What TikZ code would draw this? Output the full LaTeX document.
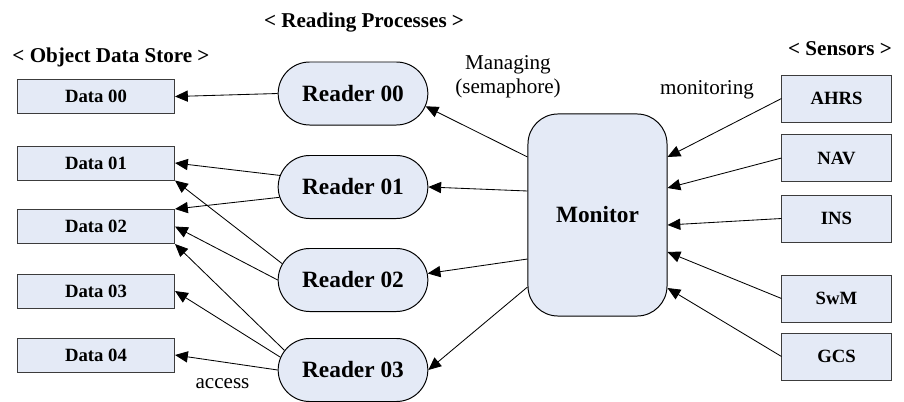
\documentclass[tikz,border=0pt]{standalone}
\usepackage{fontspec}
\setmainfont{Liberation Serif}
\usetikzlibrary{arrows.meta,shapes.misc,calc}

\definecolor{boxfill}{RGB}{228,234,246}
\definecolor{boxline}{RGB}{60,60,60}

\begin{document}
\begin{tikzpicture}[x=0.025cm, y=-0.025cm,
    >={Triangle[length=3.2mm,width=2.8mm]},
    link/.style={->, line width=0.6pt},
    databox/.style={draw=boxline, fill=boxfill, line width=0.7pt, minimum width=3.925cm, minimum height=0.85cm, font=\bfseries\fontsize{13.3}{15}\selectfont},
    sensorbox/.style={draw=boxline, fill=boxfill, line width=0.7pt, minimum width=2.725cm, minimum height=1.175cm, font=\bfseries\fontsize{13.3}{15}\selectfont},
    reader/.style={draw, fill=boxfill, rounded rectangle, line width=0.7pt, minimum width=3.975cm, minimum height=1.575cm, font=\bfseries\fontsize{16.6}{19}\selectfont},
    header/.style={anchor=base, font=\bfseries\fontsize{15}{18}\selectfont},
    note/.style={font=\fontsize{15}{17}\selectfont}]
  \useasboundingbox (0,0) rectangle (904,402);

  % Headers
  \node[header] (hdata) at (111,62) {< Object Data Store >};
  \node[header] (hread) at (364,27) {< Reading Processes >};
  \node[header] (hsens) at (840,55) {< Sensors >};

  % Object data store
  \node[databox] (d00) at (96,96.5) {Data 00};
  \node[databox] (d01) at (96,163) {Data 01};
  \node[databox] (d02) at (96,226.5) {Data 02};
  \node[databox] (d03) at (96,291) {Data 03};
  \node[databox] (d04) at (96,355) {Data 04};

  % Reading processes
  \node[reader] (r00) at (353,93.5) {Reader 00};
  \node[reader] (r01) at (353,187) {Reader 01};
  \node[reader] (r02) at (353,280) {Reader 02};
  \node[reader] (r03) at (353,370) {Reader 03};

  % Monitor
  \node[draw, fill=boxfill, rounded corners=0.75cm, line width=0.7pt, minimum width=3.475cm, minimum height=5.05cm, font=\bfseries\fontsize{16.6}{19}\selectfont] (mon) at (597.5,215) {Monitor};

  % Sensors
  \node[sensorbox] (ahrs) at (836.5,98.5) {AHRS};
  \node[sensorbox] (nav) at (836.5,158) {NAV};
  \node[sensorbox] (ins) at (836.5,218.5) {INS};
  \node[sensorbox] (swm) at (836.5,298.5) {SwM};
  \node[sensorbox] (gcs) at (836.5,356.5) {GCS};

  % Access arrows
  \draw[link] (r00.west) -- (d00.east);
  \draw[link] (r01.171) -- (d01.east);
  \draw[link] (r01.188) -- (d02.north east);
  \draw[link] (r02.167) -- (d01.south east);
  \draw[link] (r02.west) -- (d02.east);
  \draw[link] (r03.164) -- (d02.south east);
  \draw[link] (r03.170) -- (d03.east);
  \draw[link] (r03.west) -- (d04.east);

  % Managing arrows
  \draw[link] ($(mon.west)+(0,-58)$) -- (r00.-10);
  \draw[link] ($(mon.west)+(0,-24)$) -- (r01.east);
  \draw[link] ($(mon.west)+(0,44)$) -- (r02.5);
  \draw[link] ($(mon.west)+(0,72)$) -- (r03.east);

  % Monitoring arrows
  \draw[link] (ahrs.west) -- ($(mon.east)+(0,-58)$);
  \draw[link] (nav.west) -- ($(mon.east)+(0,-27)$);
  \draw[link] (ins.west) -- ($(mon.east)+(0,10)$);
  \draw[link] (swm.west) -- ($(mon.east)+(0,37)$);
  \draw[link] (gcs.west) -- ($(mon.east)+(0,73)$);

  % Labels
  \node[note, align=center] (lmanage) at (508,77) {Managing\\(semaphore)};
  \node[note, anchor=base] (lmonitor) at (707,94) {monitoring};
  \node[note, anchor=base] (laccess) at (222.5,388) {access};

\end{tikzpicture}
\end{document}
